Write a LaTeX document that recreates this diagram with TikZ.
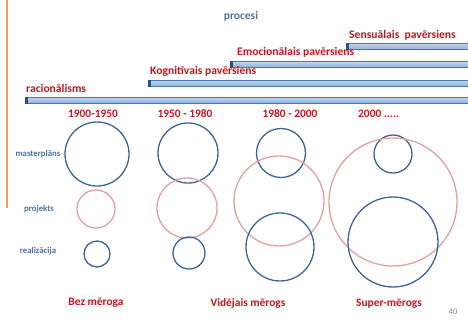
\documentclass[tikz,border=0pt]{standalone}
\usepackage{fontspec}
\setmainfont{Carlito}
\definecolor{redt}{HTML}{C8141E}
\definecolor{bluet}{HTML}{4F73A6}
\definecolor{circb}{HTML}{3F6497}
\definecolor{circp}{HTML}{E3A19D}
\definecolor{barb}{HTML}{8DB2E0}
\definecolor{barl}{HTML}{C2D5EE}
\definecolor{bard}{HTML}{4A76AE}
\definecolor{capd}{HTML}{2C4F80}
\definecolor{orl}{HTML}{F39A5A}
\begin{document}
\begin{tikzpicture}[x=1pt,y=-1pt,
  redlab/.style={text=redt,font=\bfseries\fontsize{11.6}{13}\selectfont,inner sep=0pt,anchor=base west},
  yearlab/.style={text=redt,font=\bfseries\fontsize{11.4}{13}\selectfont,inner sep=0pt,anchor=base},
  rowlab/.style={text=bluet,font=\bfseries\fontsize{8.8}{10}\selectfont,inner sep=0pt},
  bar/.style={draw=bard,line width=0.8pt,top color=barl,bottom color=barb,minimum height=6pt,inner sep=0pt,anchor=north west},
  bcirc/.style={circle,draw=circb,line width=1.3pt,inner sep=0pt},
  pcirc/.style={circle,draw=circp,line width=1.3pt,inner sep=0pt}]
\useasboundingbox (0,0) rectangle (468,322);
\fill[white] (0,0) rectangle (468,322);
% orange side line
\coordinate (o1) at (7,0);
\coordinate (o2) at (7,208);
\draw[orl,line width=1.5pt] (o1) -- (o2);
% title
\node[text=bluet,font=\bfseries\fontsize{11.5}{13}\selectfont,inner sep=0pt] (procesi) at (241,16) {procesi};
% bars
\node[bar,minimum width=445pt] (b1) at (25,97) {};
\node[bar,minimum width=322pt] (b2) at (148,80) {};
\node[bar,minimum width=240pt] (b3) at (230,61) {};
\node[bar,minimum width=124pt] (b4) at (346,43) {};
\foreach \b in {b1,b2,b3,b4}{
  \fill[capd] (\b.north west) rectangle ([xshift=3pt]\b.south west);
}
% bar labels
\node[redlab] (l1) at (26,92.5) {racionālisms};
\node[redlab] (l2) at (150,74.5) {Kognitīvais pavērsiens};
\node[redlab] (l3) at (237,55) {Emocionālais pavērsiens};
\node[redlab] (l4) at (349,38) {Sensuālais\ \ pavērsiens};
% years
\node[yearlab] (y1) at (93,117) {1900-1950};
\node[yearlab] (y2) at (185,117) {1950 - 1980};
\node[yearlab] (y3) at (290,117) {1980 - 2000};
\node[yearlab,anchor=base west] (y4) at (358,117) {2000 .....};
% row labels
\node[rowlab] (r1) at (38,154) {masterplāns};
\node[rowlab] (r2) at (39,209) {projekts};
\node[rowlab] (r3) at (38,251) {realizācija};
% circles column 1
\node[bcirc,minimum size=64pt] (c11) at (97,154) {};
\node[pcirc,minimum size=38pt] (c12) at (96,209) {};
\node[bcirc,minimum size=26pt] (c13) at (97,254) {};
% column 2
\node[bcirc,minimum size=60pt] (c21) at (188,153) {};
\node[pcirc,minimum size=60pt] (c22) at (187,208) {};
\node[bcirc,minimum size=32pt] (c23) at (189,253) {};
% column 3
\node[bcirc,minimum size=49pt] (c31) at (281,153) {};
\node[pcirc,minimum size=90pt] (c32) at (279,201) {};
\node[bcirc,minimum size=68pt] (c33) at (280,247) {};
% column 4
\node[bcirc,minimum size=38pt] (c41) at (393,154) {};
\node[pcirc,minimum size=128pt] (c42) at (393,202) {};
\node[bcirc,minimum size=90pt] (c43) at (393,242) {};
% bottom labels
\node[yearlab] (s1) at (96,305) {Bez mēroga};
\node[yearlab] (s2) at (248,306) {Vidējais mērogs};
\node[yearlab] (s3) at (389,306) {Super-mērogs};
\node[text=gray,font=\fontsize{8.5}{10}\selectfont,inner sep=0pt] (pg) at (453,312) {40};
\end{tikzpicture}
\end{document}
